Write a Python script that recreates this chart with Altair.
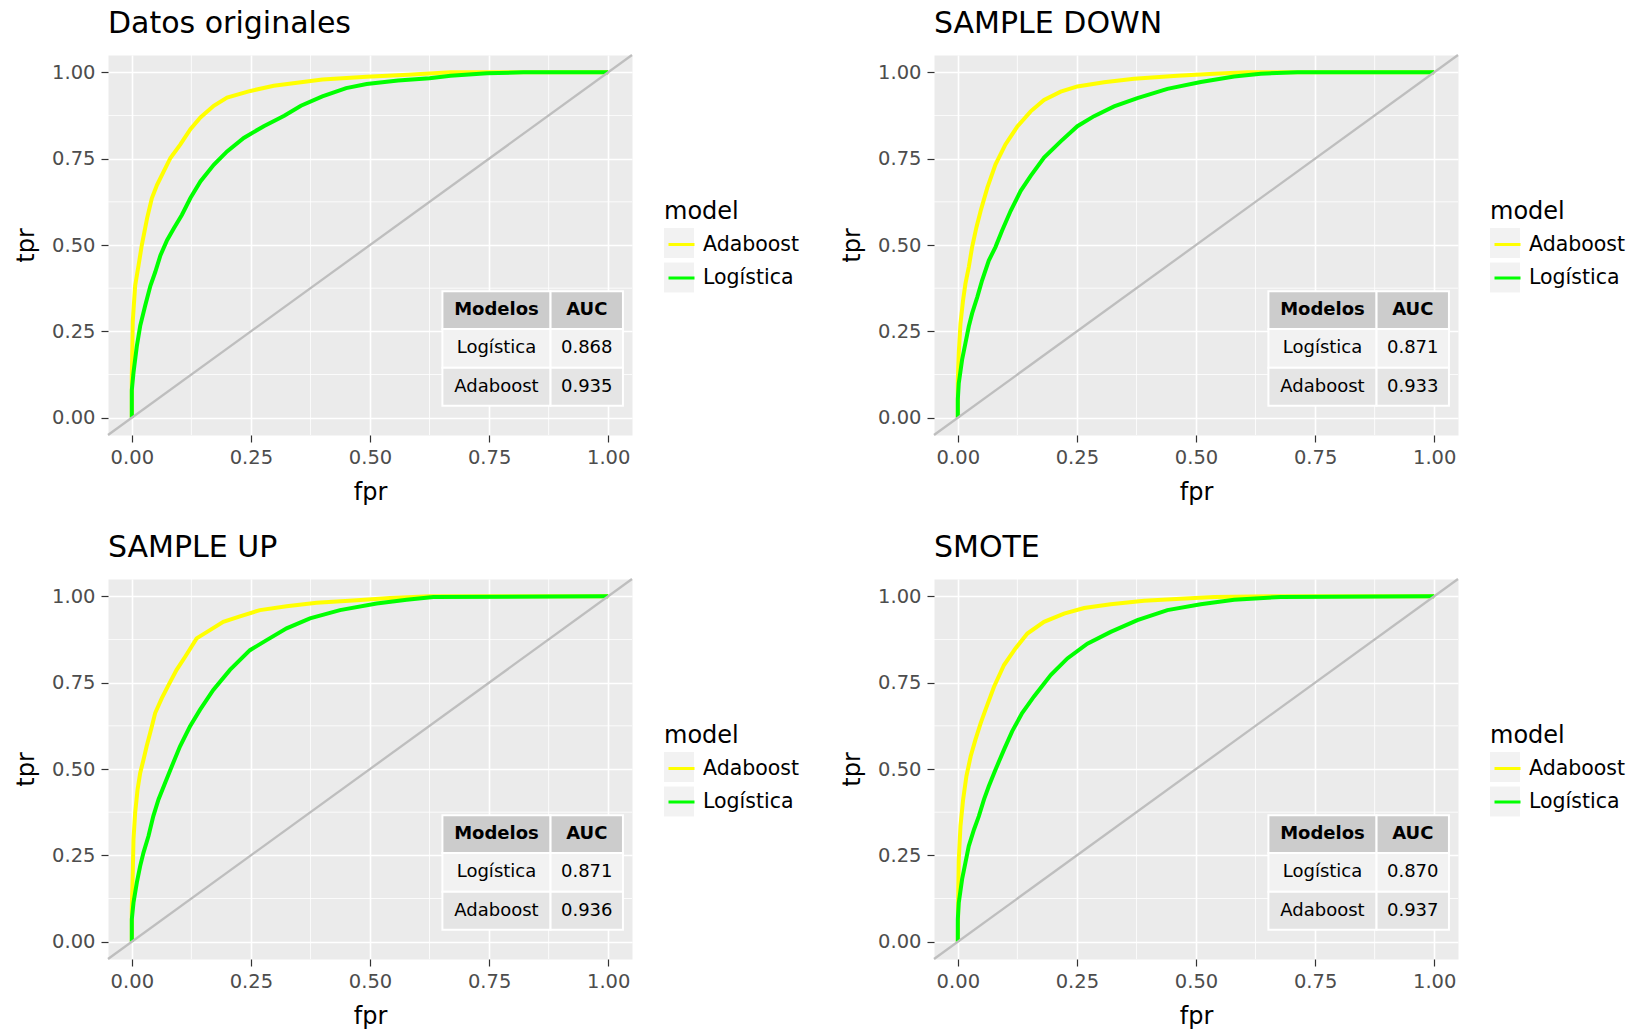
import altair as alt
import pandas as pd

FONT = "DejaVu Sans"

MODELS = ["Adaboost", "Logística"]
MODEL_COLORS = ["#FFFF00", "#00FF00"]
KEY_BACKGROUND = "#F2F2F2"
PANEL_TITLES = ["Datos originales", "SAMPLE DOWN", "SAMPLE UP", "SMOTE"]
AUC_LOGISTICA = ["0.868", "0.871", "0.871", "0.870"]
AUC_ADABOOST = ["0.935", "0.933", "0.936", "0.937"]
TABLE_HEADER = ["Modelos", "AUC"]
MAJOR_BREAKS = [0, 0.25, 0.5, 0.75, 1.0]
MINOR_BREAKS = [0.125, 0.375, 0.625, 0.875]

# ROC curves: false positive rate / true positive rate
ORIG_ADA_FPR = [0, 0, 0.002, 0.007, 0.014, 0.021, 0.032, 0.042, 0.053, 0.067, 0.081, 0.102,
                0.123, 0.144, 0.172, 0.200, 0.249, 0.298, 0.355, 0.400, 0.493, 0.580, 0.669, 1.0]
ORIG_ADA_TPR = [0, 0.12, 0.28, 0.382, 0.44, 0.50, 0.577, 0.635, 0.674, 0.713, 0.752, 0.791,
                0.835, 0.869, 0.903, 0.927, 0.946, 0.961, 0.971, 0.979, 0.987, 0.993, 1.0, 1.0]
ORIG_LOG_FPR = [0, 0, 0.0035, 0.0105, 0.0176, 0.028, 0.039, 0.049, 0.060, 0.074, 0.088, 0.105,
                0.123, 0.144, 0.172, 0.200, 0.235, 0.277, 0.320, 0.355, 0.400, 0.450, 0.493,
                0.559, 0.625, 0.669, 0.746, 0.822, 1.0]
ORIG_LOG_TPR = [0, 0.08, 0.13, 0.207, 0.266, 0.324, 0.382, 0.421, 0.470, 0.514, 0.548, 0.587,
                0.636, 0.684, 0.732, 0.771, 0.810, 0.844, 0.874, 0.903, 0.930, 0.954, 0.966,
                0.976, 0.983, 0.990, 0.997, 1.0, 1.0]

DOWN_ADA_FPR = [0, 0, 0.002, 0.0056, 0.011, 0.016, 0.023, 0.030, 0.039, 0.048, 0.062, 0.079,
                0.100, 0.125, 0.153, 0.181, 0.216, 0.251, 0.307, 0.370, 0.461, 0.538, 0.608, 1.0]
DOWN_ADA_TPR = [0, 0.11, 0.187, 0.273, 0.34, 0.388, 0.436, 0.494, 0.551, 0.599, 0.666, 0.733,
                0.791, 0.843, 0.887, 0.920, 0.944, 0.959, 0.971, 0.981, 0.990, 0.996, 1.0, 1.0]
DOWN_LOG_FPR = [0, 0, 0.002, 0.009, 0.016, 0.023, 0.030, 0.041, 0.051, 0.065, 0.079, 0.093,
                0.111, 0.132, 0.153, 0.181, 0.216, 0.251, 0.286, 0.328, 0.377, 0.440, 0.510,
                0.580, 0.636, 0.713, 1.0]
DOWN_LOG_TPR = [0, 0.053, 0.10, 0.168, 0.216, 0.264, 0.302, 0.35, 0.398, 0.455, 0.494, 0.542,
                0.599, 0.657, 0.70, 0.753, 0.80, 0.844, 0.873, 0.901, 0.925, 0.952, 0.972,
                0.988, 0.996, 1.0, 1.0]

UP_ADA_FPR = [0, 0, 0.002, 0.0035, 0.007, 0.012, 0.0175, 0.0245, 0.031, 0.042, 0.049, 0.063,
              0.077, 0.094, 0.112, 0.136, 0.164, 0.192, 0.227, 0.269, 0.325, 0.388, 0.465,
              0.542, 0.626, 1.0]
UP_ADA_TPR = [0, 0.10, 0.20, 0.296, 0.373, 0.44, 0.488, 0.527, 0.565, 0.623, 0.662, 0.705,
              0.743, 0.787, 0.825, 0.878, 0.902, 0.926, 0.942, 0.960, 0.971, 0.981, 0.988,
              0.995, 1.0, 1.0]
UP_LOG_FPR = [0, 0, 0.0035, 0.0105, 0.0175, 0.0245, 0.035, 0.045, 0.056, 0.070, 0.084, 0.101,
              0.122, 0.143, 0.171, 0.206, 0.248, 0.283, 0.325, 0.374, 0.437, 0.514, 0.577,
              0.633, 1.0]
UP_LOG_TPR = [0, 0.065, 0.113, 0.171, 0.219, 0.258, 0.306, 0.363, 0.412, 0.46, 0.508, 0.565,
              0.623, 0.671, 0.729, 0.787, 0.844, 0.873, 0.907, 0.936, 0.960, 0.979, 0.990,
              0.998, 1.0]

SMOTE_ADA_FPR = [0, 0.001, 0.002, 0.0056, 0.011, 0.018, 0.027, 0.037, 0.048, 0.058, 0.076,
                 0.097, 0.121, 0.146, 0.181, 0.223, 0.265, 0.321, 0.391, 0.468, 0.538, 0.671, 1.0]
SMOTE_ADA_TPR = [0, 0.15, 0.238, 0.335, 0.41, 0.479, 0.537, 0.585, 0.633, 0.671, 0.738,
                 0.801, 0.849, 0.892, 0.926, 0.950, 0.966, 0.977, 0.987, 0.993, 0.998, 1.0, 1.0]
SMOTE_LOG_FPR = [0, 0, 0.002, 0.009, 0.016, 0.023, 0.034, 0.044, 0.055, 0.065, 0.079, 0.097,
                 0.114, 0.135, 0.160, 0.195, 0.230, 0.272, 0.321, 0.377, 0.440, 0.510, 0.580,
                 0.678, 1.0]
SMOTE_LOG_TPR = [0, 0.065, 0.113, 0.181, 0.229, 0.277, 0.325, 0.363, 0.412, 0.45, 0.498, 0.556,
                 0.609, 0.662, 0.710, 0.772, 0.820, 0.863, 0.897, 0.931, 0.960, 0.977, 0.990,
                 0.998, 1.0]

CURVES = [
    (ORIG_ADA_FPR, ORIG_ADA_TPR, ORIG_LOG_FPR, ORIG_LOG_TPR),
    (DOWN_ADA_FPR, DOWN_ADA_TPR, DOWN_LOG_FPR, DOWN_LOG_TPR),
    (UP_ADA_FPR, UP_ADA_TPR, UP_LOG_FPR, UP_LOG_TPR),
    (SMOTE_ADA_FPR, SMOTE_ADA_TPR, SMOTE_LOG_FPR, SMOTE_LOG_TPR),
]

# layout of the AUC table, in data units of the panel
TABLE_X = [0.652, 0.879, 1.031]
TABLE_Y = [0.366, 0.257, 0.145, 0.035]
TABLE_FILLS = ["#CCCCCC", "#F2F2F2", "#E5E5E5"]

PANEL_W = 524
PANEL_H = 380
LIMITS = [-0.05, 1.05]
LEGEND_X = 556
LEGEND_Y = 145
KEY_NAMES = [m + " key" for m in MODELS]


def roc_panel(i):
    ada_fpr, ada_tpr, log_fpr, log_tpr = CURVES[i]
    curves = pd.DataFrame({
        "fpr": ada_fpr + log_fpr,
        "tpr": ada_tpr + log_tpr,
        "model": [MODELS[0]] * len(ada_fpr) + [MODELS[1]] * len(log_fpr),
        "order": list(range(len(ada_fpr))) + list(range(len(log_fpr))),
    })
    curves["key"] = curves["model"] + " key"

    xscale = alt.Scale(domain=LIMITS, nice=False, zero=False)
    yscale = alt.Scale(domain=LIMITS, nice=False, zero=False)
    axis_common = dict(
        values=MAJOR_BREAKS, format=".2f", grid=True, gridColor="white", gridWidth=1.6,
        domain=False, tickColor="#333333", tickSize=7, tickWidth=1.2,
        labelFont=FONT, labelFontSize=19.5, labelColor="#4D4D4D",
        titleFont=FONT, titleFontSize=24, titleFontWeight="normal", titleColor="black",
    )
    xaxis = alt.Axis(title="fpr", titlePadding=14, labelPadding=6, **axis_common)
    yaxis = alt.Axis(title="tpr", titlePadding=13, labelPadding=6, **axis_common)
    X = lambda f: alt.X(f, scale=xscale, axis=xaxis)
    Y = lambda f: alt.Y(f, scale=yscale, axis=yaxis)

    minor_x = alt.Chart(pd.DataFrame({"v": MINOR_BREAKS})).mark_rule(
        color="white", strokeWidth=0.8
    ).encode(x=X("v:Q"))
    minor_y = alt.Chart(pd.DataFrame({"v": MINOR_BREAKS})).mark_rule(
        color="white", strokeWidth=0.8
    ).encode(y=Y("v:Q"))

    # grey key boxes behind the legend lines (a legend only, no marks of its own)
    key_boxes = alt.Chart(curves).transform_filter("false").mark_square().encode(
        x=X("fpr:Q"), y=Y("tpr:Q"),
        fill=alt.Fill(
            "key:N",
            scale=alt.Scale(domain=KEY_NAMES, range=[KEY_BACKGROUND, KEY_BACKGROUND]),
            legend=alt.Legend(
                title=None, orient="none", legendX=LEGEND_X, legendY=LEGEND_Y + 28,
                labelExpr="''", labelFontSize=1, labelOffset=0,
                symbolType="square", symbolSize=900, symbolStrokeWidth=0, symbolOpacity=1,
                symbolOffset=0, rowPadding=4.5,
            ),
        ),
    )

    lines = alt.Chart(curves).mark_line(strokeWidth=4, interpolate="linear").encode(
        x=X("fpr:Q"), y=Y("tpr:Q"),
        order="order:Q",
        stroke=alt.Stroke(
            "model:N",
            scale=alt.Scale(domain=MODELS, range=MODEL_COLORS),
            legend=alt.Legend(
                title="model", orient="none", legendX=LEGEND_X, legendY=LEGEND_Y,
                titleFont=FONT, titleFontSize=24, titleFontWeight="normal", titleColor="black",
                titlePadding=6, labelFont=FONT, labelFontSize=20.5, labelOffset=7,
                labelColor="black",
                symbolType="stroke", symbolStrokeWidth=3, symbolSize=676,
                symbolOffset=3, rowPadding=8.5,
            ),
        ),
    )

    diag = alt.Chart(pd.DataFrame({"a": LIMITS})).mark_line(
        color="#BEBEBE", strokeWidth=2.3
    ).encode(x=X("a:Q"), y=Y("a:Q"))

    cells = []
    texts = []
    rows = [TABLE_HEADER, ["Logística", AUC_LOGISTICA[i]], ["Adaboost", AUC_ADABOOST[i]]]
    for r, row in enumerate(rows):
        for c, label in enumerate(row):
            cells.append({
                "x1": TABLE_X[c], "x2": TABLE_X[c + 1],
                "y1": TABLE_Y[r], "y2": TABLE_Y[r + 1],
                "fill": TABLE_FILLS[r],
            })
            texts.append({
                "x": (TABLE_X[c] + TABLE_X[c + 1]) / 2,
                "y": (TABLE_Y[r] + TABLE_Y[r + 1]) / 2,
                "label": label,
                "bold": "bold" if r == 0 else "normal",
            })
    cells = pd.DataFrame(cells)
    texts = pd.DataFrame(texts)

    table_rects = alt.Chart(cells).mark_rect(stroke="white", strokeWidth=2).encode(
        x=X("x1:Q"), x2="x2:Q", y=Y("y1:Q"), y2="y2:Q",
        color=alt.Color("fill:N", scale=None),
    )
    head_text = alt.Chart(texts[texts["bold"] == "bold"]).mark_text(
        font=FONT, fontSize=18, fontWeight="bold", color="black", align="center", baseline="middle"
    ).encode(x=X("x:Q"), y=Y("y:Q"), text="label:N")
    body_text = alt.Chart(texts[texts["bold"] == "normal"]).mark_text(
        font=FONT, fontSize=18, color="black", align="center", baseline="middle"
    ).encode(x=X("x:Q"), y=Y("y:Q"), text="label:N")

    return alt.layer(
        minor_x, minor_y, key_boxes, lines, diag, table_rects, head_text, body_text
    ).properties(
        width=PANEL_W, height=PANEL_H,
        title=alt.TitleParams(
            text=PANEL_TITLES[i], anchor="start", frame="group", font=FONT, fontSize=30,
            fontWeight="normal", color="black", offset=11,
        ),
    )


chart = alt.concat(
    *[roc_panel(i) for i in range(4)], columns=2, spacing={"row": 144, "column": 302},
    bounds="flush",
).resolve_scale(stroke="independent", fill="independent").properties(
    padding={"left": 14, "top": 8, "right": 0, "bottom": 0},
).configure(background="white").configure_view(fill="#EBEBEB", stroke="transparent")

chart.save("out.html", embed_options={"renderer": "svg", "actions": False})
